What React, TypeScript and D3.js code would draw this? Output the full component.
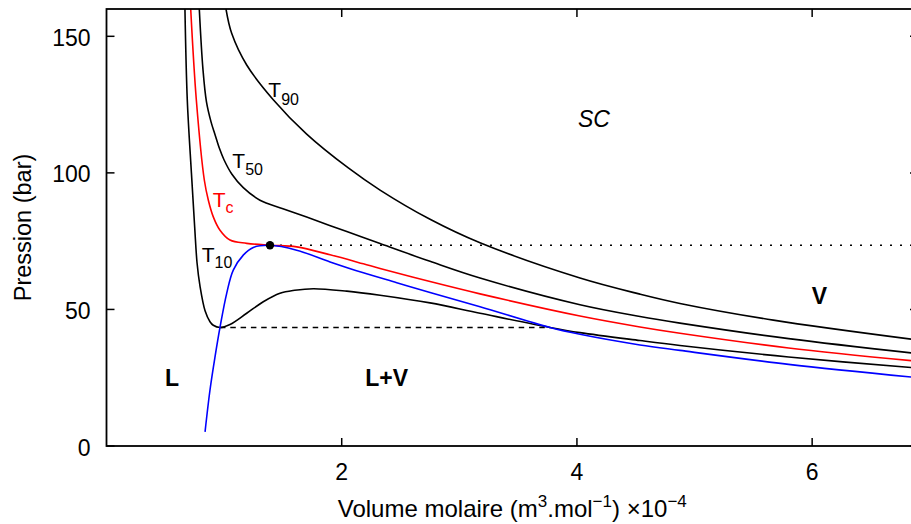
import React from 'react';
import * as d3 from 'd3';

const W = 911;
const H = 524;

const xTicks = [2, 4, 6];
const yTicks = [0, 50, 100, 150];

// Isotherms: [molar volume (x1e-4 m3/mol), pressure (bar)]
const isoT10: [number, number][] = [
  [0.667, 160], [0.687, 126.6], [0.722, 100], [0.75, 80], [0.77, 67], [0.795, 58.5],
  [0.838, 49.5], [0.88, 45.5], [0.908, 44.2], [0.965, 43.4], [1.05, 44.5], [1.192, 48.6],
  [1.333, 52.8], [1.475, 55.9], [1.6, 57.0], [1.759, 57.6], [2.043, 56.7], [2.326, 55.2],
  [2.751, 52.4], [3.176, 48.6], [3.771, 43.4], [4.026, 41.5], [4.536, 38.6], [4.876, 36.8],
  [5.8, 32.6], [6.9, 28.5],
];

const isoTc: [number, number][] = [
  [0.716, 160], [0.764, 126.6], [0.832, 97.3], [0.866, 90], [0.908, 83.9], [0.965, 79],
  [1.05, 75.4], [1.192, 74.2], [1.39, 73.5], [1.617, 72.9], [1.901, 70.0], [2.184, 66.7],
  [2.326, 65.0], [2.751, 60.2], [3.176, 55.7], [4.026, 47.6], [4.536, 43.6], [4.876, 41.3],
  [5.8, 35.9], [6.9, 31.0],
];

const isoT50: [number, number][] = [
  [0.789, 160], [0.82, 138], [0.85, 126], [0.89, 118.5], [0.923, 114.0], [0.96, 109],
  [0.999, 104.8], [1.065, 99.6], [1.163, 94.6], [1.305, 90.0], [1.5, 86.9], [1.702, 83.8],
  [2.043, 78.5], [2.326, 74.1], [2.751, 67.6], [3.176, 61.5], [4.026, 51.7], [4.536, 47.4],
  [4.876, 45.0], [5.8, 39.3], [6.9, 33.8],
];

const isoT90: [number, number][] = [
  [1.016, 160], [1.065, 151.0], [1.192, 139.5], [1.418, 126.8], [1.702, 114.2], [2.056, 101.8],
  [2.326, 93.7], [2.751, 83.0], [3.176, 74.4], [4.026, 61.5], [4.536, 55.6], [4.876, 52.2],
  [5.67, 46.1], [6.9, 38.8],
];

const binodal: [number, number][] = [
  [0.838, 5.2], [0.88, 20.5], [0.923, 32.7], [0.965, 43.4], [1.022, 55.9], [1.078, 64.4],
  [1.163, 69.9], [1.248, 72.7], [1.39, 73.5], [1.617, 71.7], [1.901, 67.4], [2.184, 63.4],
  [2.468, 59.8], [2.751, 56.2], [3.176, 51.0], [3.771, 43.4], [4.026, 40.9], [4.536, 37.0],
  [4.876, 35.0], [5.8, 29.9], [6.9, 25.0],
];

const criticalPoint: [number, number] = [1.39, 73.5];
const saturationT10: [number, number][] = [[0.965, 43.4], [3.771, 43.4]];
const criticalLine: [number, number][] = [[1.39, 73.5], [6.9, 73.5]];

const FONT = 'Liberation Sans, Arial, Helvetica, sans-serif';

export default function App() {
  const x = d3.scaleLinear().domain([0, 6.9]).range([106.5, 918]);
  const y = d3.scaleLinear().domain([0, 160]).range([446, 9]);
  const line = d3
    .line<[number, number]>()
    .x((d) => x(d[0]))
    .y((d) => y(d[1]))
    .curve(d3.curveCatmullRom.alpha(0.5));
  const straight = d3
    .line<[number, number]>()
    .x((d) => x(d[0]))
    .y((d) => y(d[1]));

  const [x0, x1] = x.range();
  const [y0, y1] = y.range();
  const tickLen = 8;

  return (
    <svg
      width={W}
      height={H}
      style={{ position: 'absolute', left: 0, top: 0, display: 'block', background: '#fff' }}
      fontFamily={FONT}
    >
      <defs>
        <clipPath id="plotClip">
          <rect x={x0} y={y1} width={x1 - x0} height={y0 - y1} />
        </clipPath>
      </defs>

      <g clipPath="url(#plotClip)" fill="none" strokeLinejoin="round">
        <path d={straight(criticalLine) || ''} stroke="#000" strokeWidth={1.3} strokeDasharray="2,8" />
        <path d={straight(saturationT10) || ''} stroke="#000" strokeWidth={1.5} strokeDasharray="5.5,4.8" />
        <path d={line(isoT90) || ''} stroke="#000" strokeWidth={1.6} />
        <path d={line(isoT50) || ''} stroke="#000" strokeWidth={1.6} />
        <path d={line(isoT10) || ''} stroke="#000" strokeWidth={1.6} />
        <path d={line(isoTc) || ''} stroke="#ff0000" strokeWidth={1.6} />
        <path d={line(binodal) || ''} stroke="#0000ff" strokeWidth={1.6} />
        <circle cx={x(criticalPoint[0])} cy={y(criticalPoint[1])} r={4.2} fill="#000" />
      </g>

      {/* frame */}
      <rect x={x0} y={y1} width={x1 - x0} height={y0 - y1} fill="none" stroke="#000" strokeWidth={1.8} />

      {/* ticks */}
      {xTicks.map((t) => (
        <g key={'x' + t}>
          <line x1={x(t)} x2={x(t)} y1={y0} y2={y0 - tickLen} stroke="#000" strokeWidth={1.5} />
          <line x1={x(t)} x2={x(t)} y1={y1} y2={y1 + tickLen} stroke="#000" strokeWidth={1.5} />
          <text x={x(t)} y={y0 + 34} textAnchor="middle" fontSize={23} fill="#000">
            {t}
          </text>
        </g>
      ))}
      {yTicks.map((t) => (
        <g key={'y' + t}>
          <line x1={x0} x2={x0 + tickLen} y1={y(t)} y2={y(t)} stroke="#000" strokeWidth={1.5} />
          <line x1={x1} x2={x1 - tickLen} y1={y(t)} y2={y(t)} stroke="#000" strokeWidth={1.5} />
          <text x={x0 - 16} y={y(t) + 9.5} textAnchor="end" fontSize={23} fill="#000">
            {t}
          </text>
        </g>
      ))}

      {/* axis titles */}
      <text x={(x0 + x1) / 2} y={517} textAnchor="middle" fontSize={24} fill="#000">
        Volume molaire (m<tspan dy={-10} fontSize={17}>3</tspan>
        <tspan dy={10}>.mol</tspan>
        <tspan dy={-10} fontSize={17}>−1</tspan>
        <tspan dy={10}>) ×10</tspan>
        <tspan dy={-10} fontSize={17}>−4</tspan>
      </text>
      <text
        transform={`translate(30.7,${(y0 + y1) / 2}) rotate(-90)`}
        textAnchor="middle"
        fontSize={23.5}
        fill="#000"
      >
        Pression (bar)
      </text>

      {/* isotherm labels */}
      <text x={268.3} y={96.7} fontSize={21} fill="#000">
        T<tspan dy={8.3} fontSize={16}>90</tspan>
      </text>
      <text x={232.3} y={168.3} fontSize={21} fill="#000">
        T<tspan dy={6.7} fontSize={16}>50</tspan>
      </text>
      <text x={212.7} y={206.7} fontSize={21} fill="#ff0000">
        T<tspan dy={6.6} fontSize={16}>c</tspan>
      </text>
      <text x={201.7} y={261.7} fontSize={21} fill="#000">
        T<tspan dy={6.6} fontSize={16}>10</tspan>
      </text>

      {/* region labels */}
      <text x={594} y={126.7} textAnchor="middle" fontSize={23} fontStyle="italic" fill="#000">
        SC
      </text>
      <text x={819.3} y={304} textAnchor="middle" fontSize={23} fontWeight="bold" fill="#000">
        V
      </text>
      <text x={386.7} y={386} textAnchor="middle" fontSize={23} fontWeight="bold" fill="#000">
        L+V
      </text>
      <text x={172} y={386} textAnchor="middle" fontSize={23} fontWeight="bold" fill="#000">
        L
      </text>
    </svg>
  );
}
